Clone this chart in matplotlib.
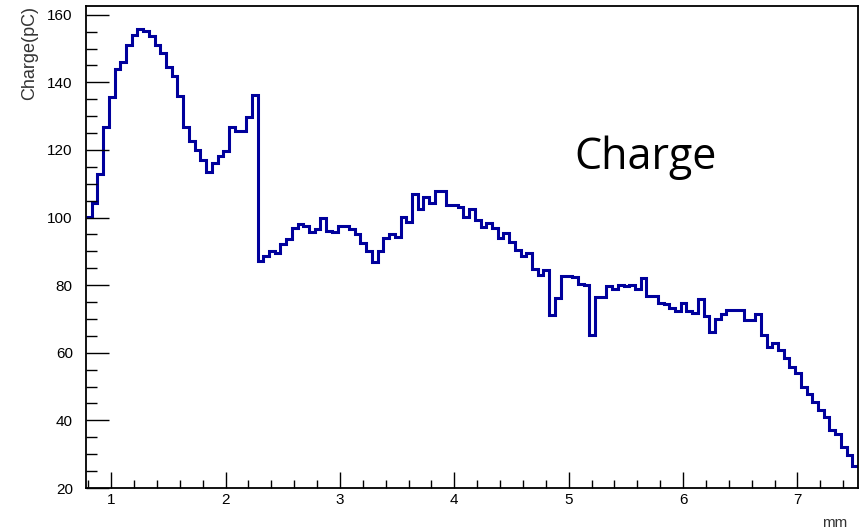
import numpy as np
import matplotlib
matplotlib.use("Agg")
import matplotlib.pyplot as plt
from matplotlib.ticker import MultipleLocator

# histogram: 135 bins of 0.05 mm starting at 0.78 mm
bin_start = 0.78
bin_width = 0.05
charge = [
    100.3, 104.3, 112.8, 126.7, 135.8, 143.9, 145.9, 151.1, 154.1, 155.8,
    155.2, 153.8, 151.1, 148.6, 144.5, 141.9, 136.0, 126.9, 122.8, 120.0,
    117.1, 113.6, 116.1, 118.1, 119.8, 126.7, 125.7, 125.7, 129.7, 136.3,
    87.2, 88.7, 90.2, 89.6, 92.2, 93.6, 96.9, 98.0, 97.5, 95.7,
    96.6, 99.8, 96.1, 95.7, 97.5, 97.5, 96.6, 95.1, 92.6, 90.1,
    87.0, 90.1, 94.1, 95.1, 94.2, 100.3, 98.8, 107.0, 102.5, 106.0,
    104.4, 107.9, 107.9, 103.8, 103.8, 103.2, 100.3, 102.6, 99.3, 97.3,
    98.3, 97.0, 93.9, 95.5, 92.9, 90.3, 88.7, 89.4, 84.9, 83.0,
    84.5, 71.2, 76.3, 82.7, 82.6, 82.5, 80.5, 80.0, 65.3, 76.4,
    76.4, 79.8, 79.0, 80.1, 79.7, 80.1, 78.8, 82.2, 76.8, 76.8,
    74.8, 74.4, 73.4, 72.4, 74.8, 72.5, 71.9, 75.8, 70.9, 66.3,
    70.0, 71.4, 72.8, 72.8, 72.8, 69.6, 69.6, 71.6, 65.2, 61.7,
    62.8, 60.9, 58.4, 55.7, 54.0, 49.9, 47.9, 45.5, 43.2, 41.1,
    37.2, 35.9, 32.1, 29.8, 26.4,
]
x_ticks = [1, 2, 3, 4, 5, 6, 7]
y_ticks = [20, 40, 60, 80, 100, 120, 140, 160]

edges = bin_start + bin_width * np.arange(len(charge) + 1)

plt.rcParams["font.family"] = ["Liberation Sans", "DejaVu Sans"]

fig = plt.figure(figsize=(8.66, 5.31), dpi=100)
ax = fig.add_axes([86 / 866, 43 / 531, 772 / 866, 482 / 531])

ax.stairs(charge, edges, baseline=None, color="#00009c", linewidth=2.2)

ax.set_xlim(edges[0], edges[-1])
ax.set_ylim(20, 162.6)

ax.set_xticks(x_ticks)
ax.set_yticks(y_ticks)
ax.xaxis.set_minor_locator(MultipleLocator(0.2))
ax.yaxis.set_minor_locator(MultipleLocator(5))

ax.tick_params(which="both", direction="in", top=False, right=False,
               labelsize=11, colors="black", width=1.0)
ax.tick_params(axis="y", which="major", length=16.5, pad=9.5)
ax.tick_params(axis="y", which="minor", length=8)
ax.tick_params(axis="x", which="major", length=11.5, pad=3.5)
ax.tick_params(axis="x", which="minor", length=5.8)

for side in ax.spines.values():
    side.set_linewidth(1.3)
    side.set_color("black")

ax.set_ylabel("Charge(pC)", loc="top", fontsize=13, color="#333333")
ax.yaxis.set_label_coords(-0.062, 1.0)
ax.set_xlabel("mm", loc="right", fontsize=11, va="baseline", color="#333333")
ax.xaxis.set_label_coords(0.986, -0.081)

ax.text(0.632, 0.662, "Charge", transform=ax.transAxes, ha="left",
        va="baseline", fontsize=31, family=["Open Sans", "DejaVu Sans"])

fig.savefig("out.png", dpi=100)
